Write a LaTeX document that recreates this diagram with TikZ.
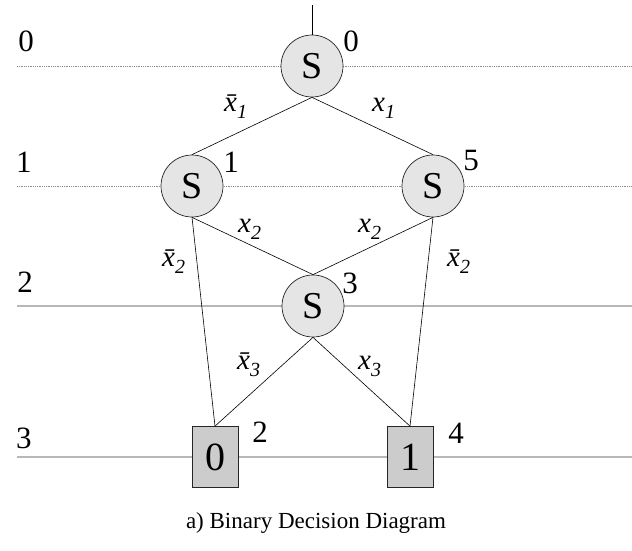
\documentclass[tikz,border=0pt]{standalone}
\usepackage{fontspec}
\setmainfont{Liberation Serif}
\newcommand{\xsub}[1]{x\raisebox{-7pt}{\fontsize{20}{20}\selectfont #1}}
\newcommand{\xbarsub}[1]{\=x\raisebox{-7pt}{\fontsize{20}{20}\selectfont #1}}
\begin{document}
\begin{tikzpicture}[x=1pt,y=-1pt,
  snode/.style={circle, draw=black!85, fill=black!10, line width=0.7pt, minimum size=62pt, inner sep=0pt, font=\fontsize{38}{38}\selectfont},
  tnode/.style={rectangle, draw=black!85, fill=black!20, line width=0.7pt, minimum width=46pt, minimum height=61pt, inner sep=0pt, font=\fontsize{40}{40}\selectfont},
  num/.style={inner sep=0pt, font=\fontsize{31}{31}\selectfont},
  elab/.style={inner sep=0pt, anchor=base west, font=\fontsize{29}{29}\selectfont\itshape},
  conn/.style={line width=0.6pt, black},
  lvldot/.style={black!45, dash pattern=on 1pt off 0.8pt, line width=0.9pt},
  lvlsolid/.style={black!28, line width=1.2pt}]
\useasboundingbox (0,0) rectangle (632,551);
% level lines
\draw[lvldot] (17,66) -- (632,66);
\draw[lvldot] (17,186) -- (632,186);
\draw[lvlsolid] (17,306) -- (632,306);
\draw[lvlsolid] (17,457) -- (632,457);
% level labels
\node[num] (l0) at (26,41) {0};
\node[num] (l1) at (24,162) {1};
\node[num] (l2) at (25,282) {2};
\node[num] (l3) at (24,438) {3};
% nodes
\node[snode] (s0) at (312,66) {S};
\node[snode] (s1) at (192,186) {S};
\node[snode] (s5) at (433,186) {S};
\node[snode] (s3) at (313,306) {S};
\node[tnode] (t0) at (215,457) {0};
\node[tnode] (t1) at (410,457) {1};
% node numbers
\node[num] (n0) at (351,41) {0};
\node[num] (n1) at (231,162) {1};
\node[num] (n5) at (471,161) {5};
\node[num] (n3) at (350,283) {3};
\node[num] (n2) at (260,432) {2};
\node[num] (n4) at (456,433) {4};
% connectors
\coordinate (top) at (312,5);
\draw[conn] (top) -- (s0.north);
\draw[conn] (s0.south) -- (s1.north);
\draw[conn] (s0.south) -- (s5.north);
\draw[conn] (s1.south) -- (t0.north);
\draw[conn] (s1.south) -- (s3.north);
\draw[conn] (s5.south) -- (s3.north);
\draw[conn] (s5.south) -- (t1.north);
\draw[conn] (s3.south) -- (t0.north);
\draw[conn] (s3.south) -- (t1.north);
% edge labels
\node[elab] (e1) at (224,111) {\xbarsub{1}};
\node[elab] (e2) at (372,111) {\xsub{1}};
\node[elab] (e3) at (162,266) {\xbarsub{2}};
\node[elab] (e4) at (238,232) {\xsub{2}};
\node[elab] (e5) at (358,232) {\xsub{2}};
\node[elab] (e6) at (447,266) {\xbarsub{2}};
\node[elab] (e7) at (237,369) {\xbarsub{3}};
\node[elab] (e8) at (358,369) {\xsub{3}};
% caption
\node[inner sep=0pt, anchor=base, font=\fontsize{23}{23}\selectfont] (cap) at (316,528) {a) Binary Decision Diagram};
\end{tikzpicture}
\end{document}
